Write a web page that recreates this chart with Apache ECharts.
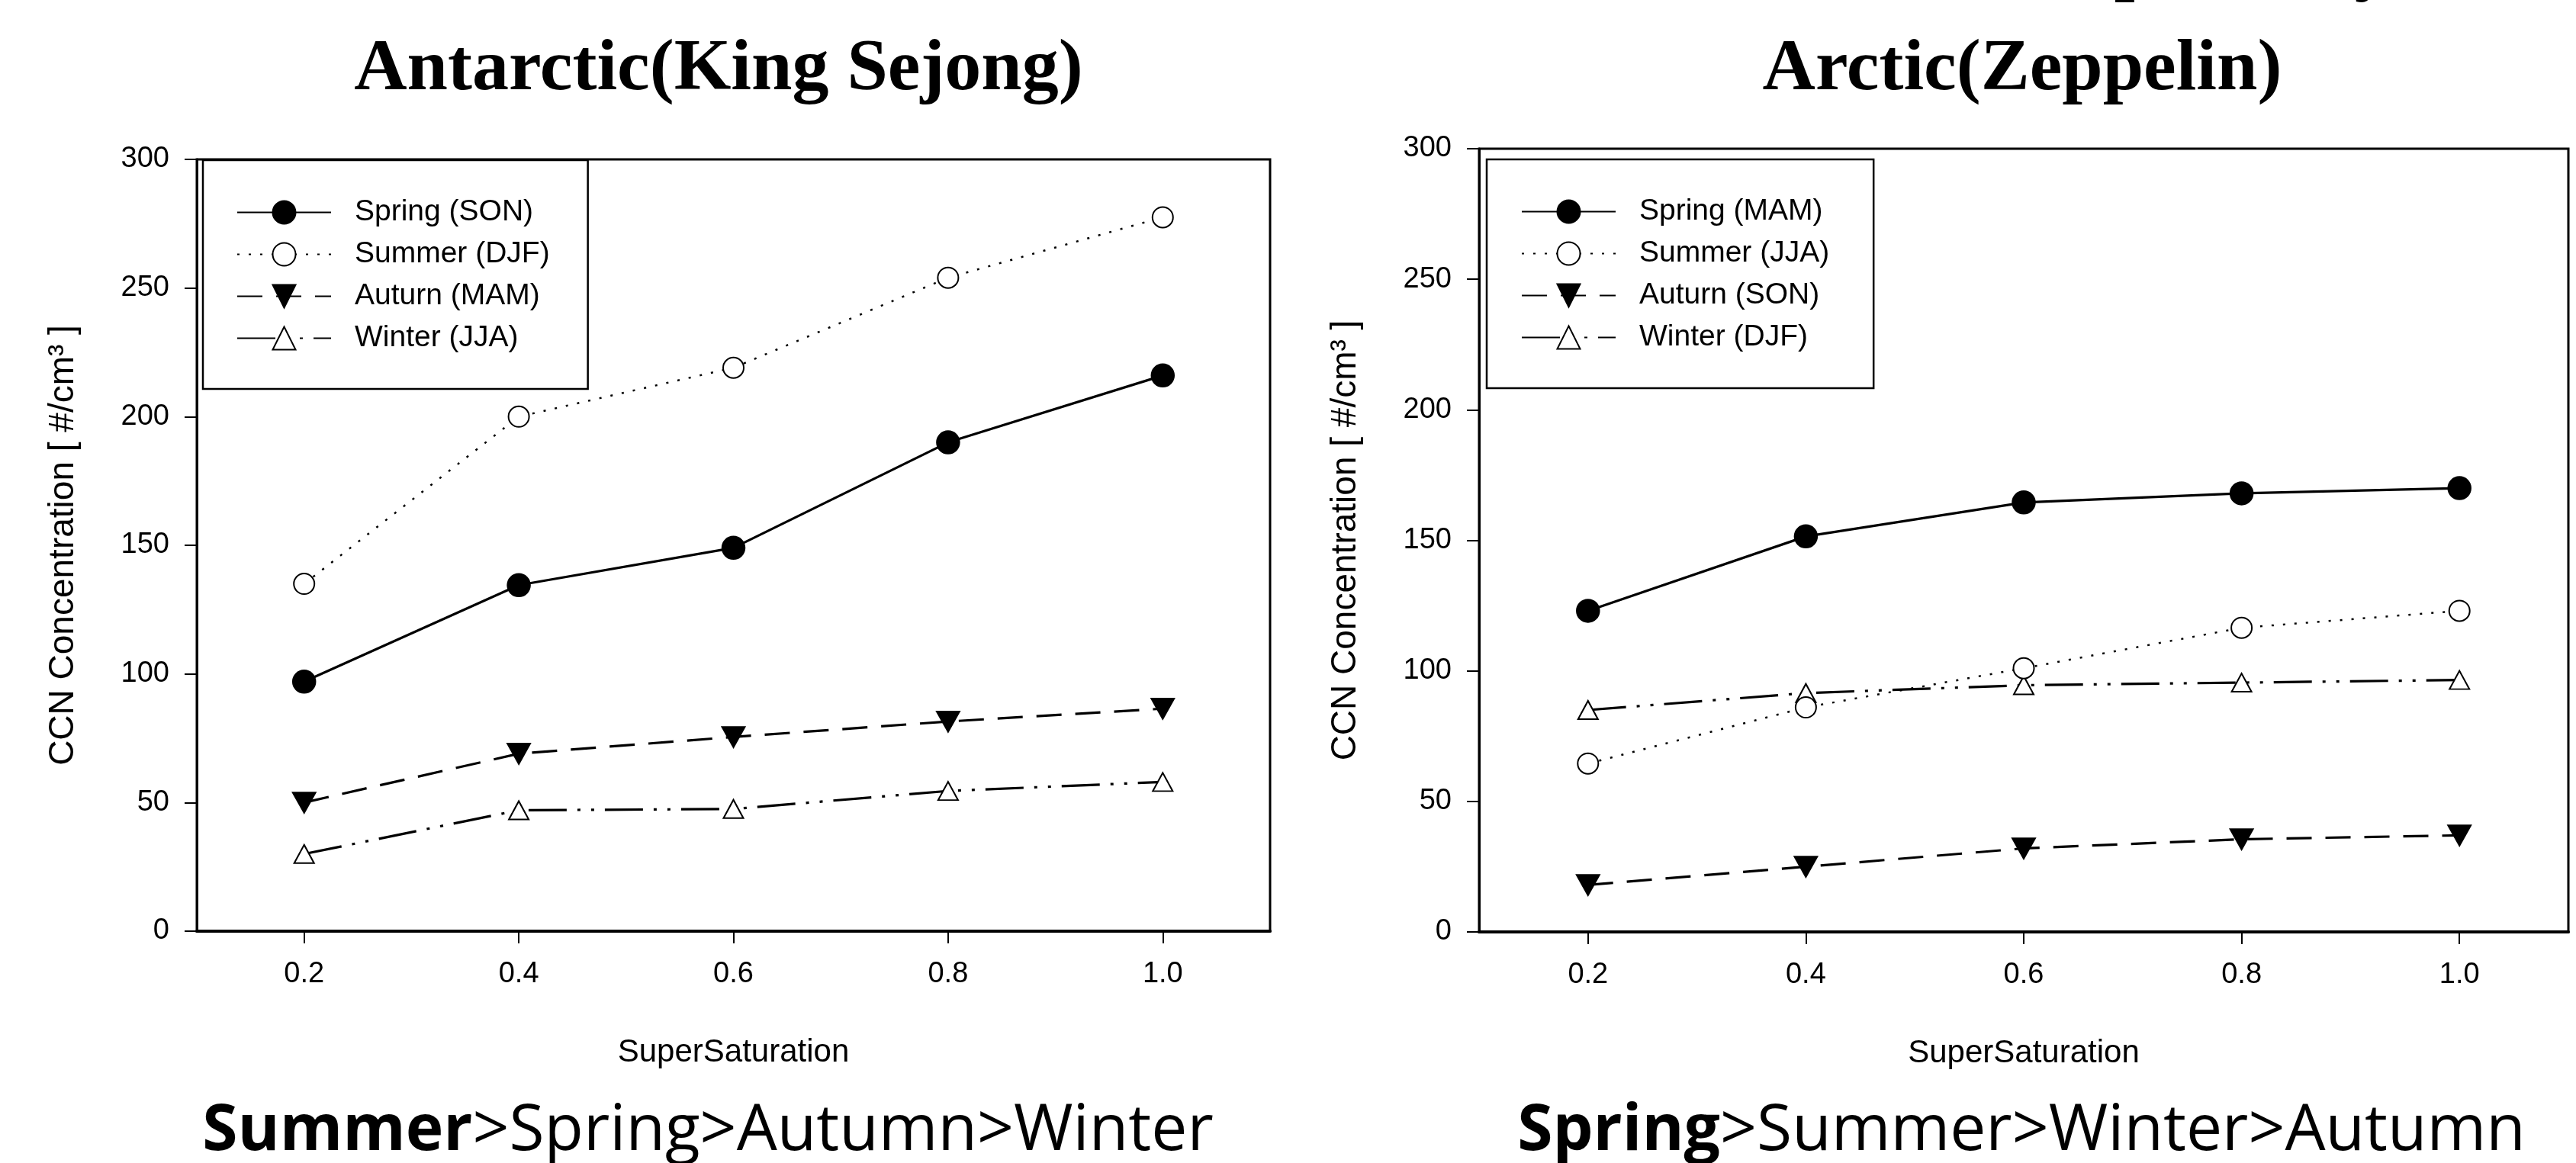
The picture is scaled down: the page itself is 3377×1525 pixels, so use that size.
<!DOCTYPE html>
<html>
<head>
<meta charset="utf-8">
<script src="https://cdn.jsdelivr.net/npm/echarts@6/dist/echarts.min.js"></script>
<style>
  html, body { margin: 0; padding: 0; background: #fff; }
  #chart { width: 3377px; height: 1525px; }
</style>
</head>
<body>
<div id="chart"></div>
<script>
// supersaturation (%) on the x axis
const superSat = [0.2, 0.4, 0.6, 0.8, 1.0]
const xTicks = [0.2, 0.4, 0.6, 0.8, 1.0]

// Antarctic (King Sejong)
const antNames = ['Spring (SON)', 'Summer (DJF)', 'Auturn (MAM)', 'Winter (JJA)']
const antSpring = [97, 134.5, 149, 190, 216]
const antSummer = [135, 200, 219, 254, 277.5]
const antAutumn = [50, 69, 75.5, 81.5, 86.5]
const antWinter = [30, 47, 47.5, 54.5, 58]

// Arctic (Zeppelin)
const arcNames = ['Spring (MAM)', 'Summer (JJA)', 'Auturn (SON)', 'Winter (DJF)']
const arcSpring = [123, 151.5, 164.5, 168, 170]
const arcSummer = [64.5, 86, 101, 116.5, 123]
const arcAutumn = [18, 25, 32, 35.5, 37]
const arcWinter = [85, 91.5, 94.5, 95.5, 96.5]

const sans = 'Liberation Sans'
const serif = 'Liberation Serif'

// line / marker look for the 4 seasons (spring, summer, autumn, winter)
const looks = [
  {symbol: 'circle', size: 29, line: {type: 'solid', width: 3.2}},
  {symbol: 'emptyCircle', size: 27, line: {type: [3, 12], width: 2.5}},
  {symbol: 'triangle', size: [29, 26], rotate: 180, line: {type: [33, 18], width: 3.2}},
  {symbol: 'emptyTriangle', size: [26, 24], line: {type: [50, 14, 4, 14, 4, 14], width: 3.2}}
]

function makeSeries(names, lists, idx) {
  let out = []
  for (let i = 0; i < lists.length; i++) {
    let pts = []
    for (let j = 0; j < superSat.length; j++) {
      pts.push([superSat[j], lists[i][j]])
    }
    let lk = looks[i]
    out.push({
      name: names[i],
      type: 'line',
      xAxisIndex: idx,
      yAxisIndex: idx,
      data: pts,
      symbol: lk.symbol,
      symbolSize: lk.size,
      symbolRotate: lk.rotate || 0,
      showAllSymbol: true,
      lineStyle: {color: '#000', width: lk.line.width, type: lk.line.type},
      itemStyle: {color: '#000', borderColor: '#000', borderWidth: 2.5},
      emphasis: {disabled: true},
      z: 10 - i
    })
  }
  return out
}

function xAxisCfg(idx) {
  return {
    type: 'value',
    gridIndex: idx,
    min: 0.1,
    max: 1.1,
    name: 'SuperSaturation',
    nameLocation: 'middle',
    nameGap: 138,
    nameTextStyle: {fontFamily: sans, fontSize: 42, color: '#000'},
    axisLine: {show: true, onZero: false, lineStyle: {color: '#000', width: 4}},
    axisTick: {show: true, length: 16, customValues: xTicks, lineStyle: {color: '#000', width: 2}},
    axisLabel: {
      customValues: xTicks,
      margin: 38,
      fontFamily: sans,
      fontSize: 38,
      color: '#000',
      formatter: v => v.toFixed(1)
    },
    splitLine: {show: false}
  }
}

function yAxisCfg(idx) {
  return {
    type: 'value',
    gridIndex: idx,
    min: 0,
    max: 300,
    interval: 50,
    name: 'CCN Concentration [ #/cm³ ]',
    nameLocation: 'middle',
    nameGap: 152,
    nameTextStyle: {fontFamily: sans, fontSize: 46, color: '#000'},
    axisLine: {show: true, onZero: false, lineStyle: {color: '#000', width: 3}},
    axisTick: {show: true, length: 16, lineStyle: {color: '#000', width: 2}},
    axisLabel: {margin: 36, fontFamily: sans, fontSize: 38, color: '#000'},
    splitLine: {show: false}
  }
}

function legendCfg(names, left, top, padding) {
  return {
    data: names,
    orient: 'vertical',
    left: left,
    top: top,
    padding: padding,
    itemGap: 16,
    itemWidth: 123,
    itemHeight: 37.5,
    borderColor: '#000',
    borderWidth: 2.5,
    borderRadius: 0,
    backgroundColor: '#fff',
    selectedMode: false,
    textStyle: {fontFamily: sans, fontSize: 39, color: '#000', padding: [0, 0, 0, 26]}
  }
}

let option = {
  animation: false,
  backgroundColor: '#fff',
  grid: [
    {left: 258, top: 209, width: 1407, height: 1012, show: true, borderColor: '#000', borderWidth: 3, backgroundColor: 'transparent', outerBoundsMode: 'none'},
    {left: 1939, top: 195, width: 1428, height: 1027, show: true, borderColor: '#000', borderWidth: 3, backgroundColor: 'transparent', outerBoundsMode: 'none'}
  ],
  xAxis: [xAxisCfg(0), xAxisCfg(1)],
  yAxis: [yAxisCfg(0), yAxisCfg(1)],
  legend: [
    legendCfg(antNames, 266, 210, [49, 50, 47, 44]),
    legendCfg(arcNames, 1949, 209, [49, 58, 47, 45])
  ],
  graphic: [
    // tail of the line above the titles, cut by the top edge
    {type: 'text', x: 2603, y: -42, style: {text: ', respectively', font: 'bold 96px ' + serif, fill: '#000', align: 'left', verticalAlign: 'middle'}},
    {type: 'text', x: 942, y: 92, style: {text: 'Antarctic(King Sejong)', font: 'bold 96px ' + serif, fill: '#000', align: 'center', verticalAlign: 'middle'}},
    {type: 'text', x: 2651, y: 92, style: {text: 'Arctic(Zeppelin)', font: 'bold 96px ' + serif, fill: '#000', align: 'center', verticalAlign: 'middle'}},
    {
      type: 'text', x: 928, y: 1484,
      style: {
        text: '{b|Summer}{r|>Spring>Autumn>Winter}',
        align: 'center', verticalAlign: 'middle',
        rich: {
          b: {fontFamily: 'Open Sans', fontWeight: 'bold', fontSize: 84, fill: '#000'},
          r: {fontFamily: 'Open Sans', fontSize: 84, fill: '#000'}
        }
      }
    },
    {
      type: 'text', x: 2650, y: 1484,
      style: {
        text: '{b|Spring}{r|>Summer>Winter>Autumn}',
        align: 'center', verticalAlign: 'middle',
        rich: {
          b: {fontFamily: 'Open Sans', fontWeight: 'bold', fontSize: 84, fill: '#000'},
          r: {fontFamily: 'Open Sans', fontSize: 84, fill: '#000'}
        }
      }
    }
  ],
  series: makeSeries(antNames, [antSpring, antSummer, antAutumn, antWinter], 0)
    .concat(makeSeries(arcNames, [arcSpring, arcSummer, arcAutumn, arcWinter], 1))
}

let myChart = echarts.init(document.getElementById('chart'))
myChart.setOption(option)
</script>
</body>
</html>
